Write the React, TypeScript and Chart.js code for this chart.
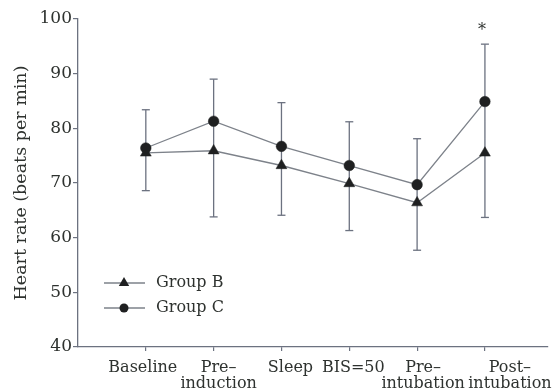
import React, { useEffect, useRef } from "react";
import { Chart, registerables } from "chart.js";

Chart.register(...registerables);

const categories: string[][] = [
  ["Baseline"],
  ["Pre–", "induction"],
  ["Sleep"],
  ["BIS=50"],
  ["Pre–", "intubation"],
  ["Post–", "intubation"],
];
const groupB = [75.5, 75.9, 73.2, 69.9, 66.4, 75.5];
const groupC = [76.4, 81.3, 76.7, 73.2, 69.7, 84.9];
const upperC = [83.4, 89.0, 84.7, 81.2, 78.1, 95.4];
const lowerB = [68.6, 63.8, 64.1, 61.3, 57.7, 63.7];
const yTicks = [40, 50, 60, 70, 80, 90, 100];
const yTitle = "Heart rate (beats per min)";
const seriesNames = ["Group B", "Group C"];
const significance = ["", "", "", "", "", "*"];

const FONT = "'DejaVu Serif', serif";
const TEXT = "#2e322f";
const AXIS = "#6c7280";
const LINE = "#7d828a";
const MARK = "#1f2021";
// horizontal nudge of each category label (px), as typeset in the original figure
const labelNudge = [-3, 5, 9, 4, 6, 25];

export default function App() {
  const ref = useRef<HTMLCanvasElement>(null);
  useEffect(() => {
    document.body.style.margin = "0";
    const canvas = ref.current!;
    const errData: any[] = [];
    categories.forEach((_, i) => {
      errData.push({ x: i + 1, y: lowerB[i] });
      errData.push({ x: i + 1, y: upperC[i] });
      errData.push({ x: i + 1, y: null });
    });
    const nudge = {
      id: "nudge",
      beforeDraw(chart: any) {
        const xs = chart.scales.x;
        const items = xs.getLabelItems();
        items.forEach((it: any, i: number) => {
          if (!it._nudged) {
            it.options.translation[0] += labelNudge[i] || 0;
            it._nudged = true;
          }
        });
      },
    };
    const overlay = {
      id: "overlay",
      afterDraw(chart: any) {
        const ctx = chart.ctx;
        const xs = chart.scales.x;
        const ys = chart.scales.y;
        ctx.save();
        ctx.fillStyle = TEXT;
        ctx.font = `16px ${FONT}`;
        ctx.textAlign = "center";
        ctx.textBaseline = "middle";
        significance.forEach((s, i) => {
          if (!s) return;
          ctx.fillText(s, xs.getPixelForValue(i + 1) - 3, ys.getPixelForValue(upperC[i]) - 13);
        });
        const items = [
          { name: seriesNames[0], style: "triangle", y: 283 },
          { name: seriesNames[1], style: "circle", y: 308 },
        ];
        items.forEach((it) => {
          ctx.strokeStyle = LINE;
          ctx.lineWidth = 1.3;
          ctx.beginPath();
          ctx.moveTo(104, it.y);
          ctx.lineTo(145, it.y);
          ctx.stroke();
          ctx.fillStyle = MARK;
          ctx.beginPath();
          if (it.style === "circle") {
            ctx.arc(124, it.y, 4.5, 0, Math.PI * 2);
          } else {
            const r = 6;
            ctx.moveTo(124, it.y - r);
            ctx.lineTo(124 + r * 0.866, it.y + r * 0.5);
            ctx.lineTo(124 - r * 0.866, it.y + r * 0.5);
            ctx.closePath();
          }
          ctx.fill();
          ctx.fillStyle = TEXT;
          ctx.font = `16px ${FONT}`;
          ctx.textAlign = "left";
          ctx.textBaseline = "middle";
          ctx.fillText(it.name, 156, it.y);
        });
        ctx.restore();
      },
    };
    const chart = new Chart(canvas, {
      type: "line",
      data: {
        datasets: [
          {
            label: "err",
            data: errData,
            borderColor: AXIS,
            borderWidth: 1.3,
            spanGaps: false,
            pointStyle: "line",
            pointRadius: 4,
            pointBorderColor: AXIS,
            pointBorderWidth: 1.3,
            order: 3,
          },
          {
            label: seriesNames[0],
            data: groupB.map((v, i) => ({ x: i + 1, y: v })),
            borderColor: LINE,
            borderWidth: 1.3,
            pointStyle: "triangle",
            pointRadius: 6.3,
            pointBackgroundColor: MARK,
            pointBorderColor: MARK,
            pointBorderWidth: 0.5,
            order: 2,
          },
          {
            label: seriesNames[1],
            data: groupC.map((v, i) => ({ x: i + 1, y: v })),
            borderColor: LINE,
            borderWidth: 1.3,
            pointStyle: "circle",
            pointRadius: 5.3,
            pointBackgroundColor: MARK,
            pointBorderColor: MARK,
            pointBorderWidth: 0.5,
            order: 1,
          },
        ],
      },
      options: {
        animation: false,
        responsive: false,
        maintainAspectRatio: false,
        events: [],
        layout: { padding: { top: 19, right: 9, left: 0, bottom: 0 } },
        plugins: { legend: { display: false }, tooltip: { enabled: false } },
        scales: {
          x: {
            type: "linear",
            min: 0,
            max: 6.93,
            afterFit: (s: any) => {
              s.height = 45;
            },
            afterBuildTicks: (s: any) => {
              s.ticks = categories.map((_, i) => ({ value: i + 1 }));
            },
            grid: {
              display: true,
              drawOnChartArea: false,
              drawTicks: true,
              tickLength: 4,
              color: AXIS,
              lineWidth: 1.2,
            },
            border: { display: true, color: AXIS, width: 1.3 },
            ticks: {
              autoSkip: false,
              maxRotation: 0,
              padding: 9,
              color: TEXT,
              font: { family: FONT, size: 16, lineHeight: 1.0 },
              callback: (v: any) => categories[Number(v) - 1] ?? "",
            },
          },
          y: {
            type: "linear",
            min: yTicks[0],
            max: yTicks[yTicks.length - 1],
            afterFit: (s: any) => {
              s.width = 78;
            },
            afterBuildTicks: (s: any) => {
              s.ticks = yTicks.map((v) => ({ value: v }));
            },
            grid: {
              display: true,
              drawOnChartArea: false,
              drawTicks: true,
              tickLength: 5,
              color: AXIS,
              lineWidth: 1.2,
            },
            border: { display: true, color: AXIS, width: 1.3 },
            ticks: {
              padding: 1,
              color: TEXT,
              font: { family: FONT, size: 17 },
            },
            title: {
              display: true,
              text: yTitle,
              color: TEXT,
              font: { family: FONT, size: 17.5 },
              padding: { top: 11, bottom: 0 },
            },
          },
        },
      },
      plugins: [nudge, overlay],
    });
    return () => chart.destroy();
  }, []);
  return <canvas ref={ref} width={557} height={392} style={{ display: "block" }} />;
}
